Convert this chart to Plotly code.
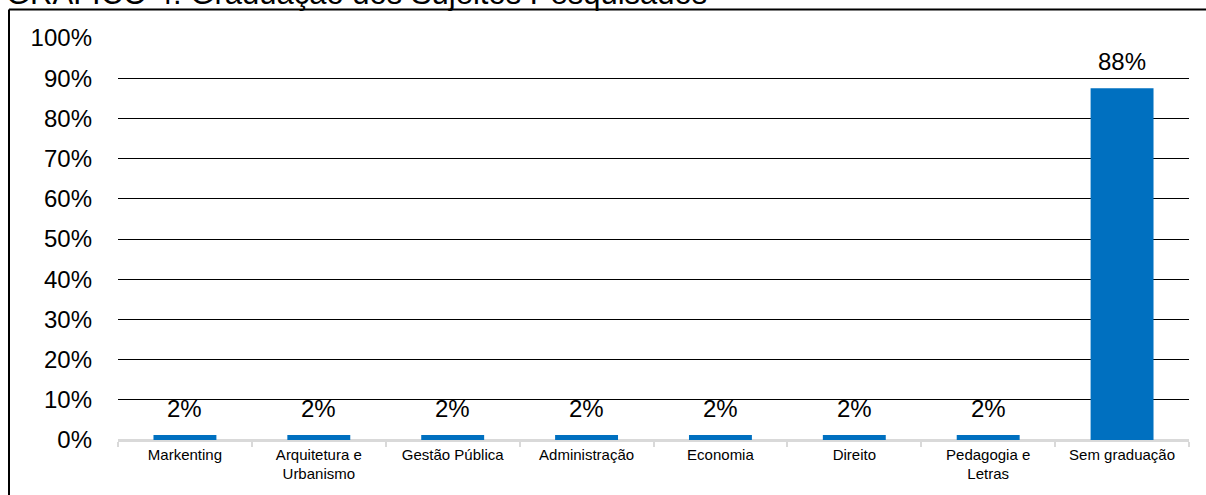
import plotly.graph_objects as go

categories = ["Markenting", "Arquitetura e<br>Urbanismo", "Gestão Pública", "Administração",
              "Economia", "Direito", "Pedagogia e<br>Letras", "Sem graduação"]
values = [0.0125, 0.0125, 0.0125, 0.0125, 0.0125, 0.0125, 0.0125, 0.875]
labels = ["2%", "2%", "2%", "2%", "2%", "2%", "2%", "88%"]
y_ticks = [0, 0.1, 0.2, 0.3, 0.4, 0.5, 0.6, 0.7, 0.8, 0.9, 1.0]
y_tick_text = ["0%", "10%", "20%", "30%", "40%", "50%", "60%", "70%", "80%", "90%", "100%"]
title = "GRÁFICO 4: Graduação dos Sujeitos Pesquisados"

FONT = "Liberation Sans, Arial, sans-serif"
W, H = 1206, 495
L, R, T, B = 118, 17, 38, 55
PW, PH = W - L - R, H - T - B

fig = go.Figure()
fig.add_trace(go.Bar(x=categories, y=values, marker=dict(color="#0070C0", line=dict(width=0)),
                     hoverinfo="skip"))

for c, v, t in zip(categories, values, labels):
    fig.add_annotation(x=c, y=v, text=t, showarrow=False, yanchor="bottom", yshift=11,
                       font=dict(family=FONT, size=24, color="#000000"))

def px_x(p):
    return (p - L) / PW

def px_y(p):
    return 1 - (p - T) / PH

# title (partially clipped at top, as in the source)
fig.add_annotation(xref="paper", yref="paper", x=px_x(4), y=px_y(-6.5), xanchor="left", yanchor="middle",
                   text=title, showarrow=False, font=dict(family=FONT, size=31, color="#000000"))

# border box (left and top edges visible)
fig.add_shape(type="line", xref="paper", yref="paper", x0=px_x(9), x1=px_x(9), y0=px_y(9.5), y1=px_y(520),
              line=dict(color="#000000", width=2))
fig.add_shape(type="line", xref="paper", yref="paper", x0=px_x(9), x1=px_x(1230), y0=px_y(9.5), y1=px_y(9.5),
              line=dict(color="#000000", width=2))

fig.update_layout(
    width=W, height=H, autosize=False,
    margin=dict(l=L, r=R, t=T, b=B, pad=0),
    paper_bgcolor="#ffffff", plot_bgcolor="#ffffff",
    showlegend=False, bargap=0.53,
    font=dict(family=FONT, color="#000000"),
    xaxis=dict(showline=True, linecolor="#d9d9d9", linewidth=1.5, ticks="outside", tickson="boundaries",
               ticklen=5, tickcolor="#d9d9d9", tickwidth=1.5,
               tickfont=dict(family=FONT, size=15, color="#000000"), showgrid=False),
    yaxis=dict(range=[0, 1.0], tickvals=y_ticks, ticktext=y_tick_text, showgrid=True, gridcolor="#000000",
               gridwidth=1, zeroline=True, zerolinecolor="#d9d9d9", zerolinewidth=1.5, showline=False,
               ticks="", ticklabelstandoff=25, tickfont=dict(family=FONT, size=24, color="#000000")),
)

fig.write_html("out.html")
